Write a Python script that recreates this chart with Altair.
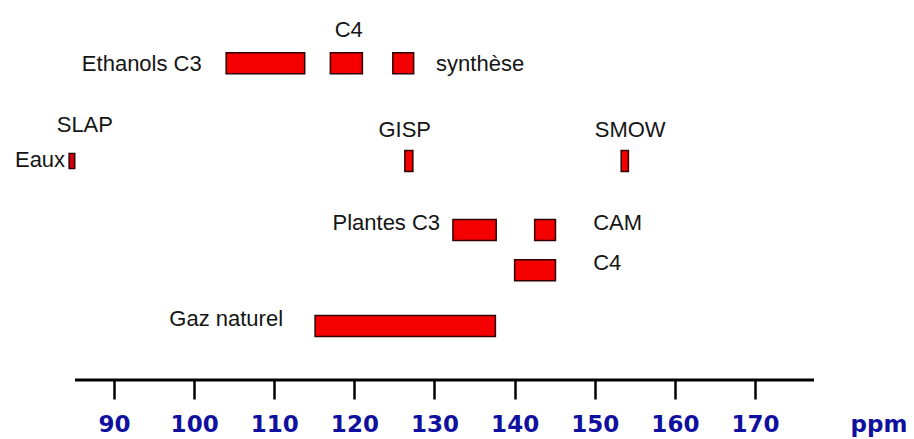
import altair as alt
import pandas as pd

# ---------------- data (ppm) ----------------
bar_label = ["Ethanols C3", "Ethanols C4", "Ethanols synthèse",
             "Eaux SLAP", "Eaux GISP", "Eaux SMOW",
             "Plantes C3", "Plantes CAM", "Plantes C4", "Gaz naturel"]
bar_start = [104.0, 117.0, 124.8, 84.4, 126.3, 153.3, 132.3, 142.5, 140.0, 115.1]
bar_end = [113.8, 121.0, 127.4, 85.1, 127.3, 154.2, 137.7, 145.1, 145.1, 137.6]
bar_row = [0, 0, 0, 1, 1, 1, 2, 2, 3, 4]

row_names = ["Ethanols", "Eaux", "Plantes C3 / CAM", "Plantes C4", "Gaz naturel"]

ann_text = ["C4", "Ethanols C3", "synthèse", "SLAP", "Eaux", "GISP", "SMOW",
            "Plantes C3", "CAM", "C4", "Gaz naturel"]
ann_ppm = [119.3, 100.95, 130.2, 82.85, 83.9, 123.0, 150.0, 130.7, 149.8, 149.8, 111.1]
ann_row = [0, 0, 0, 1, 1, 1, 1, 2, 2, 3, 4]

tick_values = [90, 100, 110, 120, 130, 140, 150, 160, 170]
axis_extent = [85.13, 177.36]

# ---------------- layout / style ----------------
ann_align = ["center", "right", "left", "left", "right", "left", "left",
             "right", "left", "left", "right"]
ann_dy = [-25.8, 7.5, 7.5, -29.3, 6.3, -24.3, -24.3, 0, 0, -0.3, -0.3]

W, H = 898, 372
xscale = alt.Scale(domain=[76.771, 188.846], nice=False, zero=False)
yscale = alt.Scale(domain=[0, 1, 2, 3, 4], range=[47.8, 153, 222, 262.3, 322.3],
                   nice=False, zero=False)
blue = "#10109e"
xaxis = alt.Axis(values=tick_values, format="d", domain=False, grid=False,
                 ticks=True, tickColor="black", tickWidth=2.5, tickSize=19,
                 labelFont="DejaVu Sans", labelFontWeight="bold", labelFontSize=23,
                 labelColor=blue, labelPadding=14, labelFlush=False, labelOverlap=False,
                 title="ppm", titleFont="DejaVu Sans", titleFontWeight="bold",
                 titleFontSize=23, titleColor=blue, titleX=842, titleY=33,
                 titleAlign="left", titleBaseline="top", titleAngle=0)


def X(field):
    return alt.X(field, type="quantitative", scale=xscale, axis=xaxis)


Y = alt.Y("row:Q", scale=yscale, axis=None)

bars = pd.DataFrame({"label": bar_label, "start": bar_start, "end": bar_end,
                     "row": bar_row, "rowname": [row_names[r] for r in bar_row]})

bar_style = dict(color="#f50000", stroke="#300000", strokeWidth=1.5)
main_bars = alt.Chart(bars).transform_filter(
    alt.datum.label != "Eaux SLAP").mark_bar(height=21, **bar_style).encode(
    x=X("start"), x2="end", y=Y, tooltip=["label", "rowname", "start", "end"])
slap_bar = alt.Chart(bars).transform_filter(
    alt.datum.label == "Eaux SLAP").mark_bar(height=15, color="#d00010",
                                             stroke="#300000", strokeWidth=1.5).encode(
    x=X("start"), x2="end", y=Y, tooltip=["label", "rowname", "start", "end"])

axis_line = alt.Chart(pd.DataFrame({"a": [axis_extent[0]], "b": [axis_extent[1]]})).mark_rule(
    color="black", strokeWidth=3).encode(x=X("a"), x2="b", y=alt.value(H))

layers = [axis_line, main_bars, slap_bar]
for t, p, r, a, d in zip(ann_text, ann_ppm, ann_row, ann_align, ann_dy):
    df = pd.DataFrame({"text": [t], "ppm": [p], "row": [r]})
    layers.append(
        alt.Chart(df).mark_text(align=a, baseline="alphabetic", dy=d,
                                font="Liberation Sans", fontSize=22, color="#151515")
        .encode(x=X("ppm"), y=Y, text="text:N"))

chart = alt.layer(*layers).properties(
    width=W, height=H, autosize="none",
    padding={"left": 0, "right": 0, "top": 0, "bottom": 59},
    background="white",
).configure_view(stroke=None)

chart.save("out.html", embed_options={"renderer": "svg", "actions": False})
